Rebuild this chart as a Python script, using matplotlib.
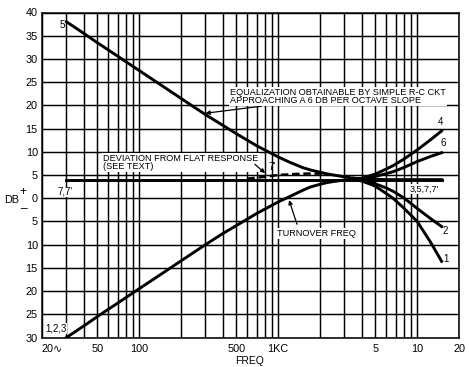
import matplotlib
matplotlib.use("Agg")
import matplotlib.pyplot as plt

# ---- data ----
freq_lo = [30, 40, 50, 70, 100, 150, 200, 300, 400, 500, 700, 1000, 1200, 1500, 1700, 2000, 2200, 2500, 3000, 3500]
db_curve5 = [38, 35.5, 33.5, 30.6, 27.5, 24.0, 21.5, 18.0, 15.7, 13.9, 11.3, 8.9, 7.8, 6.6, 6.1, 5.6, 5.3, 5.0, 4.6, 4.3]
db_curve123 = [-30, -27.5, -25.5, -22.6, -19.5, -16.0, -13.5, -10.0, -7.6, -5.9, -3.3, -0.8, 0.3, 1.7, 2.4, 3.0, 3.3, 3.6, 3.9, 4.0]

freq_hi = [3500, 4000, 5000, 6000, 6700, 8000, 10000, 12500, 15000]
db_curve1 = [4.0, 3.7, 2.6, 1.0, 0.0, -2.1, -5.0, -9.5, -13.6]
db_curve2 = [4.0, 3.8, 3.1, 2.2, 1.5, 0.1, -2.2, -4.4, -6.1]
db_curve4 = [4.0, 4.3, 5.2, 6.3, 7.0, 8.4, 10.4, 12.6, 14.5]
db_curve6 = [4.0, 4.2, 4.7, 5.3, 5.7, 6.6, 7.9, 9.0, 9.8]
db_curve35 = [4.3, 4.2, 4.1, 4.0, 4.0, 4.0, 4.0, 4.0, 4.0]

freq_flat = [30, 15000]
db_flat = [4.0, 4.0]

freq_dev = [600, 800, 1000, 1300, 1600, 2000, 2200]
db_dev = [4.2, 4.6, 5.0, 5.2, 5.3, 5.3, 5.2]

x_grid = ([20, 30, 40, 50, 60, 70, 80, 90, 100, 200, 300, 400, 500, 600, 700, 800, 900,
           1000, 2000, 3000, 4000, 5000, 6000, 7000, 8000, 9000, 10000, 20000])
x_label_pos = [20, 50, 100, 500, 1000, 5000, 10000, 20000]
x_labels = ["20\u223f", "50", "100", "500", "1KC", "5", "10", "20"]
y_ticks = list(range(-30, 41, 5))
y_labels = [str(abs(v)) for v in y_ticks]

FONT = ["Liberation Sans", "DejaVu Sans"]
plt.rcParams["font.family"] = FONT

W, H = 469, 367
fig = plt.figure(figsize=(W / 100, H / 100), dpi=100)
ax = fig.add_axes([42 / W, 1 - 337.5 / H, (459 - 42) / W, (337.5 - 12.5) / H])
ax.set_xscale("log")
ax.set_xlim(20, 20000)
ax.set_ylim(-30, 40)

ax.set_xticks(x_grid, minor=True)
ax.set_xticks(x_label_pos)
ax.set_xticklabels(x_labels, fontsize=7.8)
ax.xaxis.set_minor_formatter(matplotlib.ticker.NullFormatter())
ax.set_yticks(y_ticks)
ax.set_yticklabels(y_labels, fontsize=7.8)
ax.tick_params(which="both", length=0)
ax.tick_params(axis="x", pad=5)
ax.tick_params(axis="y", pad=3)
ax.xaxis.get_majorticklabels()[0].set_horizontalalignment("left")
ax.grid(which="both", axis="x", color="black", lw=1.05)
ax.grid(which="major", axis="y", color="black", lw=1.05)
for s in ax.spines.values():
    s.set_color("black")
    s.set_linewidth(1.1)

lw = 2.1
ax.plot(freq_lo, db_curve5, color="black", lw=lw, zorder=3)
ax.plot(freq_lo, db_curve123, color="black", lw=lw, zorder=3)
ax.plot(freq_hi, db_curve1, color="black", lw=lw, zorder=3)
ax.plot(freq_hi, db_curve2, color="black", lw=lw, zorder=3)
ax.plot(freq_hi, db_curve4, color="black", lw=lw, zorder=3)
ax.plot(freq_hi, db_curve6, color="black", lw=lw, zorder=3)
ax.plot(freq_hi, db_curve35, color="black", lw=lw, zorder=3)
ax.plot(freq_flat, db_flat, color="black", lw=lw, zorder=3)
ax.plot(freq_dev, db_dev, color="black", lw=1.8, ls=(0, (3, 1.5)), zorder=3)

tfs = 6.6
box = dict(facecolor="white", edgecolor="none", pad=0.6)
arrow = dict(arrowstyle="-|>", color="black", lw=0.9, mutation_scale=6, shrinkA=0, shrinkB=0)

ax.annotate("EQUALIZATION OBTAINABLE BY SIMPLE R-C CKT\nAPPROACHING A 6 DB PER OCTAVE SLOPE",
            xy=(300, 18.3), xytext=(450, 21.9), fontsize=tfs, ha="left", va="center",
            linespacing=0.95, bbox=box, arrowprops=arrow, zorder=5)
ax.annotate("DEVIATION FROM FLAT RESPONSE\n(SEE TEXT)",
            xy=(806, 5.4), xytext=(55, 7.7), fontsize=tfs, ha="left", va="center",
            linespacing=0.95, bbox=box, zorder=5)
ax.annotate("", xy=(806, 5.4), xytext=(680, 7.3), arrowprops=arrow, zorder=5)
ax.annotate("TURNOVER FREQ", xy=(1198, -0.4), xytext=(980, -7.6), fontsize=tfs,
            ha="left", va="center", bbox=box, zorder=5)
ax.annotate("", xy=(1198, -0.4), xytext=(1366, -5.6), arrowprops=arrow, zorder=5)
ax.text(902, 6.7, "7'", fontsize=tfs + 0.5, ha="center", va="center", zorder=5)

lfs = 7
ax.text(28, 37.2, "5", fontsize=lfs, ha="center", va="center", zorder=5)
ax.text(25.2, -28.1, "1,2,3", fontsize=lfs, ha="center", va="center", zorder=5,
        bbox=dict(facecolor="white", edgecolor="none", pad=0.3))
ax.text(29.2, 1.35, "7,7'", fontsize=lfs, ha="center", va="center", zorder=5,
        bbox=dict(facecolor="white", edgecolor="none", pad=0.3))
ax.text(14600, 16.4, "4", fontsize=lfs, ha="center", va="center", zorder=5)
ax.text(15300, 11.9, "6", fontsize=lfs, ha="center", va="center", zorder=5)
ax.text(15800, -7.0, "2", fontsize=lfs, ha="center", va="center", zorder=5)
ax.text(16200, -13.2, "1", fontsize=lfs, ha="center", va="center", zorder=5)
ax.text(11300, 2.0, "3,5,7,7'", fontsize=lfs - 0.5, ha="center", va="center", zorder=5,
        bbox=dict(facecolor="white", edgecolor="none", pad=0.3))

# axis labels
fig.text(12 / W, 1 - 200 / H, "DB", fontsize=7.8, ha="center", va="center")
fig.text(23 / W, 1 - 192 / H, "+", fontsize=8.5, ha="center", va="center")
fig.text(23 / W, 1 - 203 / H, "_", fontsize=8.5, ha="center", va="center")
fig.text(250 / W, 1 - 361 / H, "FREQ", fontsize=7.5, ha="center", va="center")

fig.savefig("out.png", dpi=100, facecolor="white")
